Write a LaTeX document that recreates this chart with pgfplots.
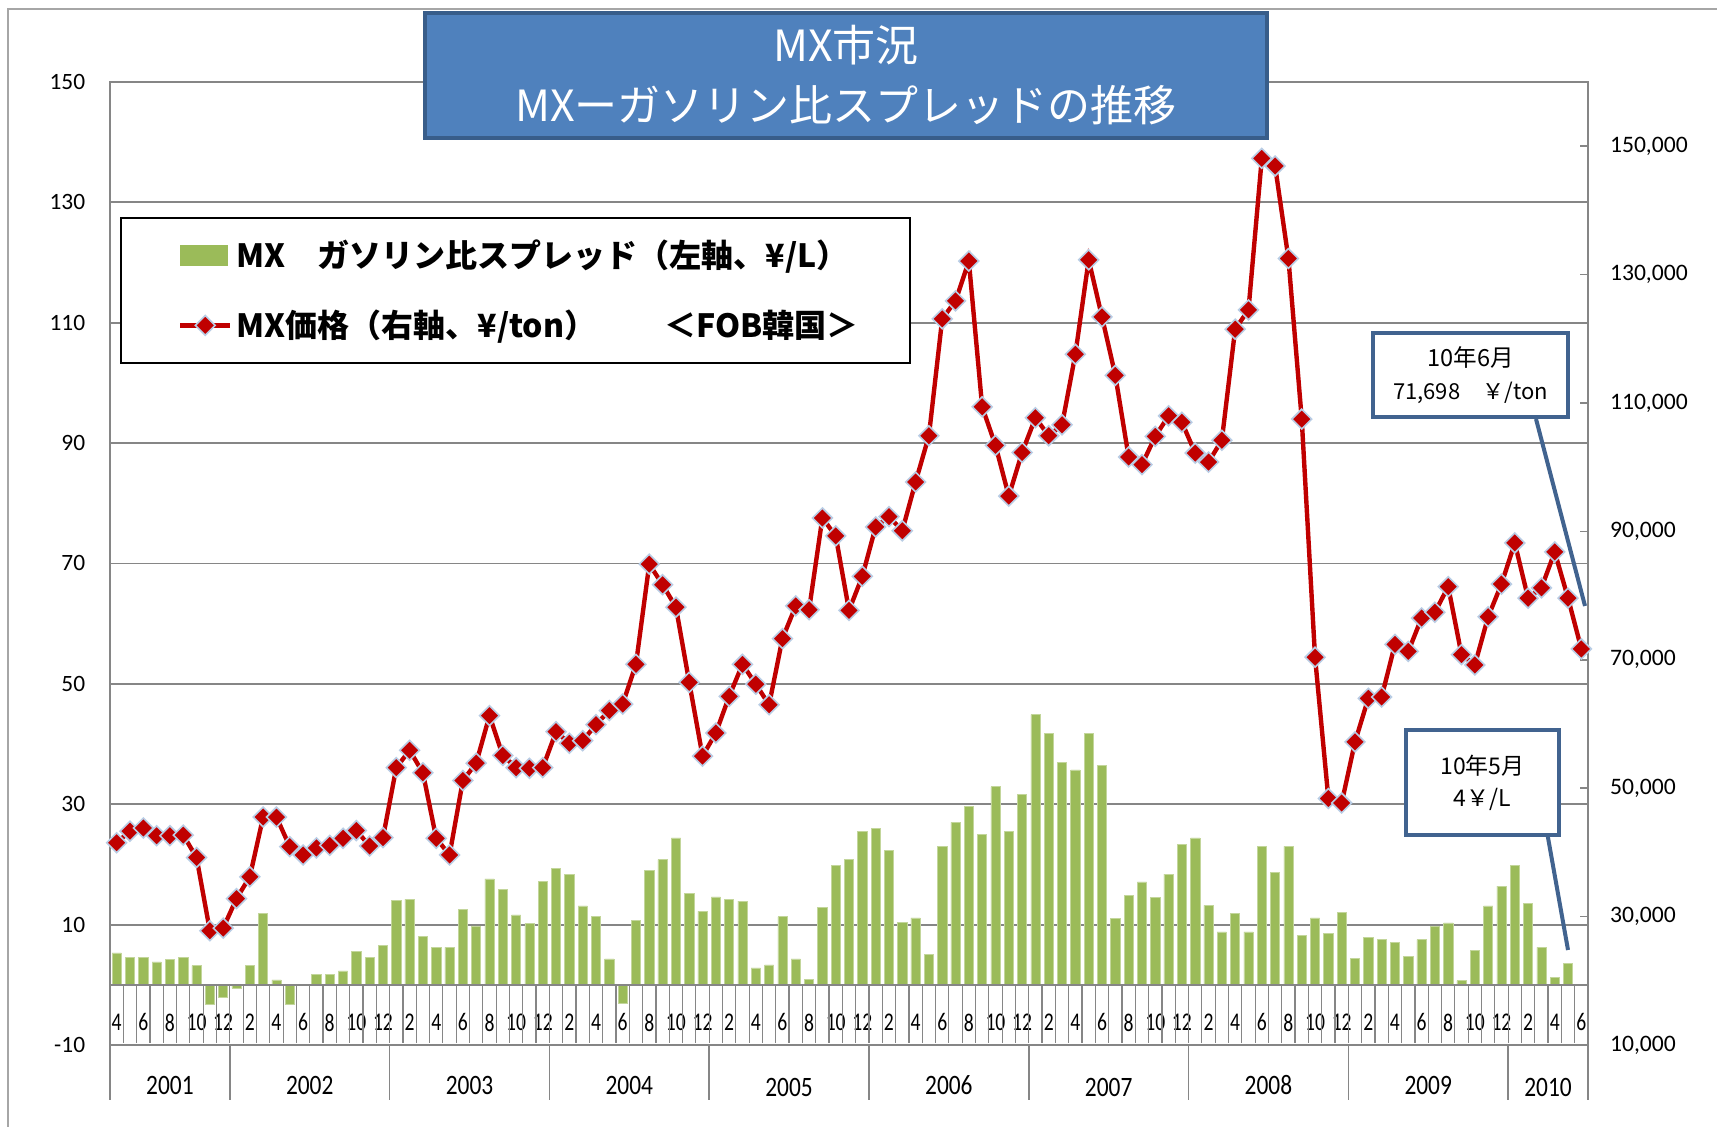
\documentclass[border=0pt]{standalone}
\usepackage{graphicx}
\usepackage{pgfplots}
\pgfplotsset{compat=1.18}
\usepackage{pgfplotstable}
\usepackage{fontspec}
\setmainfont{Carlito}
\newfontfamily\jp{Noto Sans CJK JP}
\definecolor{barg}{HTML}{9BBB59}
\definecolor{bare}{HTML}{C3D69B}
\definecolor{linr}{HTML}{C00000}
\definecolor{mke}{HTML}{B9CDE5}
\definecolor{ttlf}{HTML}{4F81BD}
\definecolor{ttld}{HTML}{385D8A}
\definecolor{annb}{HTML}{41638F}
\definecolor{gridc}{HTML}{868686}
\definecolor{framec}{HTML}{A6A6A6}
\newcommand\mo[1]{\scalebox{1}[1.3]{#1}}
\newcommand\yr[1]{\scalebox{1}[1.2]{#1}}
\pgfplotsset{
  mylineleg/.style={legend image code/.code={\path (-11pt,0pt); \draw[mark repeat=2, mark phase=2, ##1] plot coordinates {(0pt,0pt) (12.5pt,0pt) (25pt,0pt)};}},
  mybarleg/.style={legend image code/.code={\path (-11pt,0pt); \fill[barg] (0pt,-4.85pt) rectangle (23.5pt,4.85pt);}},
}

\pgfplotstableread{
i v
0 5.3
1 4.5
2 4.5
3 3.8
4 4.2
5 4.5
6 3.2
7 -3.2
8 -2.0
9 -0.6
10 3.2
11 11.9
12 0.8
13 -3.3
14 0
15 1.75
16 1.75
17 2.3
18 5.6
19 4.5
20 6.6
21 14.0
22 14.2
23 8.1
24 6.2
25 6.2
26 12.5
27 9.8
28 17.6
29 15.8
30 11.6
31 10.2
32 17.2
33 19.3
34 18.4
35 13.1
36 11.3
37 4.3
38 -3.1
39 10.7
40 19.0
41 20.8
42 24.4
43 15.2
44 12.2
45 14.6
46 14.2
47 13.9
48 2.8
49 3.3
50 11.3
51 4.3
52 0.9
53 12.8
54 19.8
55 20.8
56 25.5
57 26.0
58 22.3
59 10.4
60 11.1
61 5.1
62 23.0
63 27.0
64 29.6
65 25.0
66 32.9
67 25.5
68 31.6
69 44.9
70 41.8
71 36.9
72 35.7
73 41.8
74 36.5
75 11.0
76 14.8
77 17.1
78 14.5
79 18.4
80 23.3
81 24.4
82 13.2
83 8.8
84 11.9
85 8.8
86 23.0
87 18.7
88 23.0
89 8.2
90 11.1
91 8.5
92 12.0
93 4.4
94 7.9
95 7.6
96 7.1
97 4.7
98 7.5
99 9.7
100 10.3
101 0.7
102 5.7
103 13.1
104 16.4
105 19.9
106 13.5
107 6.2
108 1.2
109 3.6
}\bars

\pgfplotstableread{
i p
0 41500
1 43300
2 43800
3 42600
4 42600
5 42700
6 39200
7 27800
8 28200
9 32800
10 36200
11 45500
12 45500
13 40900
14 39600
15 40700
16 41100
17 42200
18 43400
19 41000
20 42300
21 53200
22 55900
23 52400
24 42200
25 39600
26 51200
27 53900
28 61300
29 55100
30 53200
31 53100
32 53200
33 58800
34 57000
35 57400
36 59900
37 62100
38 63100
39 69300
40 84900
41 81700
42 78200
43 66500
44 55000
45 58600
46 64300
47 69300
48 66200
49 63000
50 73300
51 78400
52 77800
53 92100
54 89300
55 77700
56 83000
57 90700
58 92300
59 90100
60 97700
61 104900
62 123100
63 125900
64 132100
65 109400
66 103400
67 95500
68 102300
69 107700
70 104900
71 106600
72 117600
73 132300
74 123400
75 114300
76 101600
77 100400
78 104800
79 108000
80 107000
81 102200
82 100800
83 104200
84 121500
85 124500
86 148100
87 146900
88 132500
89 107500
90 70400
91 48400
92 47700
93 57200
94 64000
95 64200
96 72400
97 71300
98 76500
99 77400
100 81400
101 70800
102 69200
103 76700
104 81800
105 88200
106 79600
107 81200
108 86800
109 79600
110 71698
}\price

\begin{document}
\begin{tikzpicture}
\useasboundingbox (0pt,0pt) rectangle (858.5pt,563.5pt);
\fill[white] (0pt,0pt) rectangle (858.5pt,563.5pt);
\draw[framec, line width=0.8pt] (4pt,-5pt) -- (4pt,559pt) -- (870pt,559pt);

\begin{axis}[
  at={(55pt,41pt)}, anchor=south west, scale only axis,
  width=739pt, height=481.5pt,
  xmin=0, xmax=111, ymin=-10, ymax=150,
  ytick={-10,10,...,150},
  ymajorgrids, major grid style={gridc, line width=0.9pt},
  axis line style={gridc, line width=0.9pt},
  xtick={0.5,2.5,...,110.5},
  xticklabels={\mo{4},\mo{6},\mo{8},\mo{10},\mo{12},\mo{2},
    \mo{4},\mo{6},\mo{8},\mo{10},\mo{12},\mo{2},
    \mo{4},\mo{6},\mo{8},\mo{10},\mo{12},\mo{2},
    \mo{4},\mo{6},\mo{8},\mo{10},\mo{12},\mo{2},
    \mo{4},\mo{6},\mo{8},\mo{10},\mo{12},\mo{2},
    \mo{4},\mo{6},\mo{8},\mo{10},\mo{12},\mo{2},
    \mo{4},\mo{6},\mo{8},\mo{10},\mo{12},\mo{2},
    \mo{4},\mo{6},\mo{8},\mo{10},\mo{12},\mo{2},
    \mo{4},\mo{6},\mo{8},\mo{10},\mo{12},\mo{2},
    \mo{4},\mo{6}},
  xtick style={draw=none}, ytick style={draw=none},
  xticklabel style={font=\fontsize{9.8}{11}\selectfont, anchor=center, yshift=11.3pt},
  yticklabel style={font=\fontsize{11.7}{14}\selectfont, xshift=-8.9pt},
  /pgf/number format/assume math mode=true,
  clip=false,
  legend cell align=left,
  legend style={at={(0.0068,0.8598)}, anchor=north west,
    draw=black, line width=1pt, fill=white,
    font=\jp\bfseries\fontsize{16}{19}\selectfont,
    inner xsep=17.5pt, inner ysep=9pt, row sep=15.7pt,
    nodes={inner sep=2pt}},
]
\addplot[ybar, bar width=4.6pt, bar shift=0pt, fill=barg, draw=bare, line width=0.3pt, mybarleg]
  table[x expr=\thisrow{i}+0.5, y=v] {\bars};
\addlegendentry{MX　ガソリン比スプレッド（左軸、¥/L）}
\addlegendimage{linr, line width=2.2pt, mark=square*, mark size=3.5pt,
  mark options={rotate=45, fill=linr, draw=mke, line width=0.8pt}, mylineleg}
\addlegendentry{MX価格（右軸、¥/ton）\hspace{34pt}＜FOB韓国＞\rule{6.5pt}{0pt}}

\draw[gridc, line width=1.2pt] (axis cs:0,0) -- (axis cs:111,0);
\pgfplotsinvokeforeach{0,...,111}{\draw[gridc, line width=0.6pt] (axis cs:#1,0) -- (axis cs:#1,-9.7);}
\pgfplotsinvokeforeach{0,9,21,33,45,57,69,81,93,105,111}{\draw[gridc, line width=0.8pt] (axis cs:#1,-10) -- ++(0pt,-27.5pt);}
\node[font=\fontsize{11.7}{14}\selectfont, yshift=-20pt] at (axis cs:4.5,-10) {\yr{2001}};
\node[font=\fontsize{11.7}{14}\selectfont, yshift=-20pt] at (axis cs:15,-10) {\yr{2002}};
\node[font=\fontsize{11.7}{14}\selectfont, yshift=-20pt] at (axis cs:27,-10) {\yr{2003}};
\node[font=\fontsize{11.7}{14}\selectfont, yshift=-20pt] at (axis cs:39,-10) {\yr{2004}};
\node[font=\fontsize{11.7}{14}\selectfont, yshift=-21pt] at (axis cs:51,-10) {\yr{2005}};
\node[font=\fontsize{11.7}{14}\selectfont, yshift=-20pt] at (axis cs:63,-10) {\yr{2006}};
\node[font=\fontsize{11.7}{14}\selectfont, yshift=-21pt] at (axis cs:75,-10) {\yr{2007}};
\node[font=\fontsize{11.7}{14}\selectfont, yshift=-20pt] at (axis cs:87,-10) {\yr{2008}};
\node[font=\fontsize{11.7}{14}\selectfont, yshift=-20pt] at (axis cs:99,-10) {\yr{2009}};
\node[font=\fontsize{11.7}{14}\selectfont, yshift=-21pt] at (axis cs:108,-10) {\yr{2010}};
\end{axis}

\begin{axis}[
  at={(55pt,41pt)}, anchor=south west, scale only axis,
  width=739pt, height=481.5pt,
  xmin=0, xmax=111, ymin=10000, ymax=160000,
  axis x line=none, axis y line*=right,
  ytick={10000,30000,...,150000},
  scaled y ticks=false,
  yticklabel style={font=\fontsize{11.8}{14}\selectfont, xshift=7.5pt,
    /pgf/number format/fixed, /pgf/number format/precision=0,
    /pgf/number format/1000 sep={,}},
  axis line style={gridc, line width=0.9pt},
  ytick style={gridc, line width=0.8pt},
  major tick length=4pt,
  /pgf/number format/assume math mode=true,
  clip=false,
]
\addplot[linr, line width=2.2pt, mark=square*, mark size=3.5pt,
  mark options={rotate=45, fill=linr, draw=mke, line width=0.8pt}]
  table[x expr=\thisrow{i}+0.5, y=p] {\price};
\end{axis}

% title
\node[fill=ttlf, draw=ttld, line width=1.6pt, minimum width=421pt, minimum height=62.5pt,
  text=white, align=center, inner sep=0pt,
  font=\jp\fontsize{21.5}{30}\selectfont] at (423pt,525.75pt)
  {MX市況\\MXーガソリン比スプレッドの推移};

% annotations
\draw[annb, line width=2pt] (768pt,354pt) -- (792.5pt,260.5pt);
\node[draw=annb, line width=2pt, fill=white, minimum width=97.5pt, minimum height=42pt,
  align=center, inner sep=0pt, font=\jp\fontsize{11}{16.7}\selectfont]
  at (735.25pt,376pt) {{\fontsize{11.8}{16.7}\selectfont 10年6月}\\71,698　￥/ton};
\draw[annb, line width=2pt] (773.5pt,147.5pt) -- (784pt,88.5pt);
\node[draw=annb, line width=2pt, fill=white, minimum width=76.5pt, minimum height=52.5pt,
  align=center, inner sep=0pt, font=\jp\fontsize{11.5}{16}\selectfont]
  at (741.25pt,172.25pt) {10年5月\\4￥/L};
\end{tikzpicture}
\end{document}
